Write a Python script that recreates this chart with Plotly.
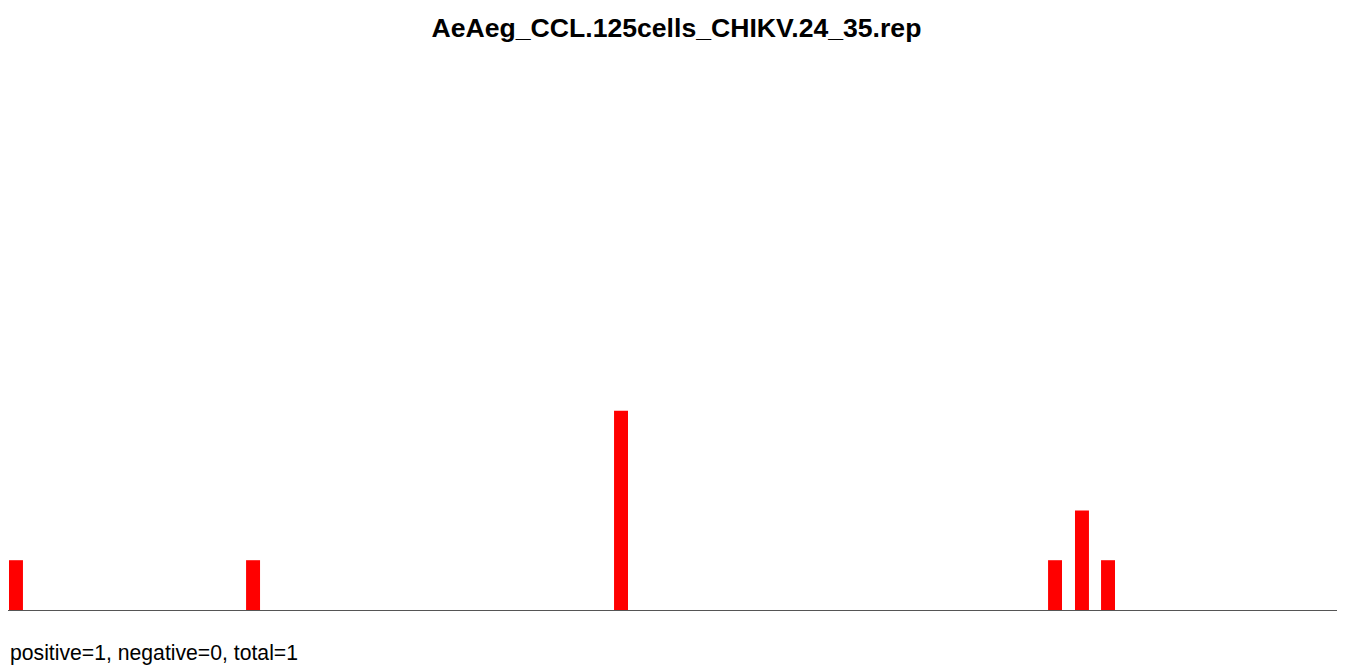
import plotly.graph_objects as go

# Estimated genome positions (x) and read counts (y)
positions = [72, 2211, 5531, 9447, 9690, 9925]
counts = [1, 1, 4, 1, 2, 1]
x_range = [0, 12000]
y_range = [0, 10]
title_text = "AeAeg_CCL.125cells_CHIKV.24_35.rep"
footer_text = "positive=1, negative=0, total=1"

# The page body adds an 8px margin, so the figure is sized to fit the window.
W, H = 1337, 660
T, B, L, R = 104, 58, 0, 7
plot_h = H - T - B

fig = go.Figure(
    go.Bar(
        x=positions,
        y=counts,
        width=126,
        marker=dict(color="#ff0000", line=dict(width=0)),
        hoverinfo="x+y",
    )
)

fig.update_layout(
    width=W,
    height=H,
    paper_bgcolor="white",
    plot_bgcolor="white",
    margin=dict(l=L, r=R, t=T, b=B),
    title=dict(
        text=f"<b>{title_text}</b>",
        x=0.5,
        xanchor="center",
        y=1 - 20 / H,
        yanchor="middle",
        font=dict(family="Liberation Sans, Arial", size=26.6, color="black"),
    ),
    showlegend=False,
    xaxis=dict(
        range=x_range,
        showgrid=False,
        zeroline=False,
        showticklabels=False,
        ticks="",
        showline=True,
        linecolor="#555555",
        linewidth=1,
    ),
    yaxis=dict(
        range=y_range,
        showgrid=False,
        zeroline=False,
        showticklabels=False,
        ticks="",
        showline=False,
    ),
    annotations=[
        dict(
            text=footer_text,
            xref="paper",
            yref="paper",
            x=0,
            y=-43 / plot_h,
            xanchor="left",
            yanchor="middle",
            xshift=0,
            showarrow=False,
            font=dict(family="Liberation Sans, Arial", size=21.2, color="black"),
        )
    ],
)

fig.write_html("out.html")
